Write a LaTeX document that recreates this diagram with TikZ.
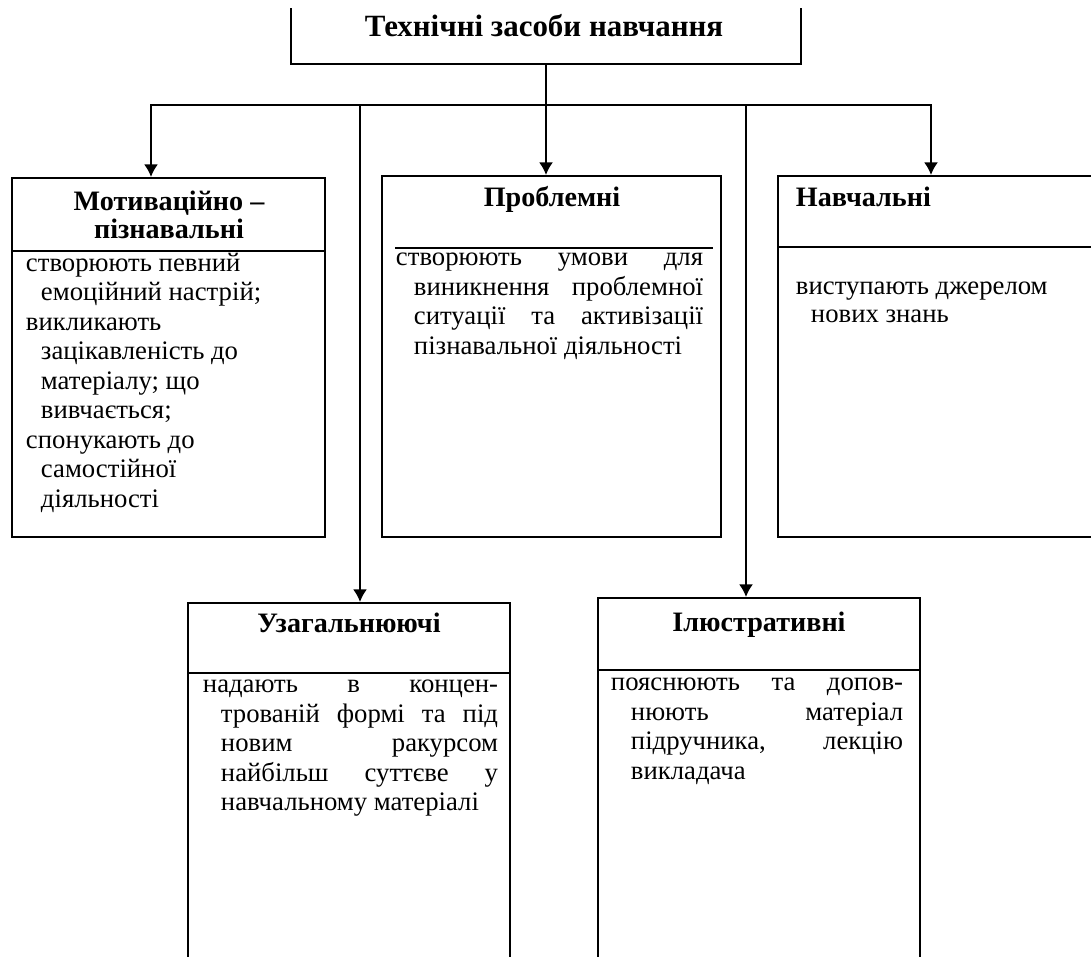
\documentclass[tikz,border=0pt]{standalone}
\usepackage{fontspec}
\setmainfont{Liberation Serif}
\usetikzlibrary{arrows.meta, positioning, fit}

\newcommand{\bodyfont}{\fontsize{19}{21}\selectfont}
\newcommand{\headfont}{\fontsize{20}{20}\selectfont\bfseries}
\newcommand{\jline}[2]{\makebox[#1][s]{#2}}

\begin{document}
\begin{tikzpicture}[
    x=0.025cm, y=-0.025cm,
    line width=1.4pt,
    box/.style={inner sep=0pt},
    title/.style={anchor=base, inner sep=0pt, font=\fontsize{22}{26}\selectfont\bfseries},
    head/.style={inner sep=0pt, align=center, font=\headfont},
    body/.style={anchor=north west, inner sep=0pt, align=left, font=\bodyfont},
    arrow/.style={-{Latex[length=9pt,width=10pt]}}
]
    \useasboundingbox (0,0) rectangle (1091,957);
    \clip (0,0) rectangle (1091,957);

    % Top: the whole group
    \node[box, fit={(292,9) (800,63)}] (top) {};
    \node[title] (toptitle) at (544,37) {Технічні засоби навчання};
    \draw (top.north west) -- (top.south west) -- (top.south east) -- (top.north east);

    % Row 1
    \node[box, draw, fit={(12,178) (325,537)}] (motiv) {};
    \node[head, anchor=north] (motivhead) at (169,190) {Мотиваційно –\\ пізнавальні};
    \draw (motiv.west |- 0,251) -- (motiv.east |- 0,251);
    \node[body] (motivtext) at (25,252) {створюють певний\\
        \hspace*{0.375cm}емоційний настрій;\\
        викликають\\
        \hspace*{0.375cm}зацікавленість до\\
        \hspace*{0.375cm}матеріалу; що\\
        \hspace*{0.375cm}вивчається;\\
        спонукають до\\
        \hspace*{0.375cm}самостійної\\
        \hspace*{0.375cm}діяльності};

    \node[box, draw, fit={(382,176) (721,537)}] (probl) {};
    \node[head, anchor=base] (problhead) at (552,207) {Проблемні};
    \draw (395,248) -- (713,248);
    \node[body] (probltext) at (395,252) {\jline{7.675cm}{створюють умови для}\\
        \hspace*{0.45cm}\jline{7.225cm}{виникнення проблемної}\\
        \hspace*{0.45cm}\jline{7.225cm}{ситуації та активізації}\\
        \hspace*{0.45cm}пізнавальної діяльності};

    \node[box, draw, fit={(778,176) (1100,537)}] (navch) {};
    \node[head, anchor=base west] (navchhead) at (795,207) {Навчальні};
    \draw (navch.west |- 0,247) -- (navch.east |- 0,247);
    \node[body] (navchtext) at (795,281) {виступають джерелом\\[-1pt]
        \hspace*{0.375cm}нових знань};

    % Row 2
    \node[box, draw, fit={(188,603) (510,965)}] (uzag) {};
    \node[head, anchor=base] (uzaghead) at (349,632) {Узагальнюючі};
    \draw (uzag.west |- 0,673) -- (uzag.east |- 0,673);
    \node[body] (uzagtext) at (202,679) {\jline{7.375cm}{надають в концен-}\\
        \hspace*{0.45cm}\jline{6.925cm}{трованій формі та під}\\
        \hspace*{0.45cm}\jline{6.925cm}{новим ракурсом}\\
        \hspace*{0.45cm}\jline{6.925cm}{найбільш суттєве у}\\
        \hspace*{0.45cm}навчальному матеріалі};

    \node[box, draw, fit={(598,598) (920,965)}] (ilustr) {};
    \node[head, anchor=base] (ilustrhead) at (759,631) {Ілюстративні};
    \draw (ilustr.west |- 0,670) -- (ilustr.east |- 0,670);
    \node[body] (ilustrtext) at (610,677) {\jline{7.3cm}{пояснюють та допов-}\\
        \hspace*{0.5cm}\jline{6.8cm}{нюють матеріал}\\
        \hspace*{0.5cm}\jline{6.8cm}{підручника, лекцію}\\
        \hspace*{0.5cm}викладача};

    % Connectors
    \coordinate (hub) at (top.south |- 0,105);
    \coordinate (busL) at (151,105);
    \coordinate (busR) at (931,105);
    \coordinate (tapU) at (360,105);
    \coordinate (tapI) at (746,105);
    \draw (top.south) -- (hub);
    \draw[arrow] (hub) -- (busL) -- (busL |- motiv.north);
    \draw[arrow] (hub) -- (busR) -- (busR |- navch.north);
    \draw[arrow] (hub) -- (hub |- probl.north);
    \draw[arrow] (tapU) -- (tapU |- uzag.north);
    \draw[arrow] (tapI) -- (tapI |- ilustr.north);

\end{tikzpicture}
\end{document}
